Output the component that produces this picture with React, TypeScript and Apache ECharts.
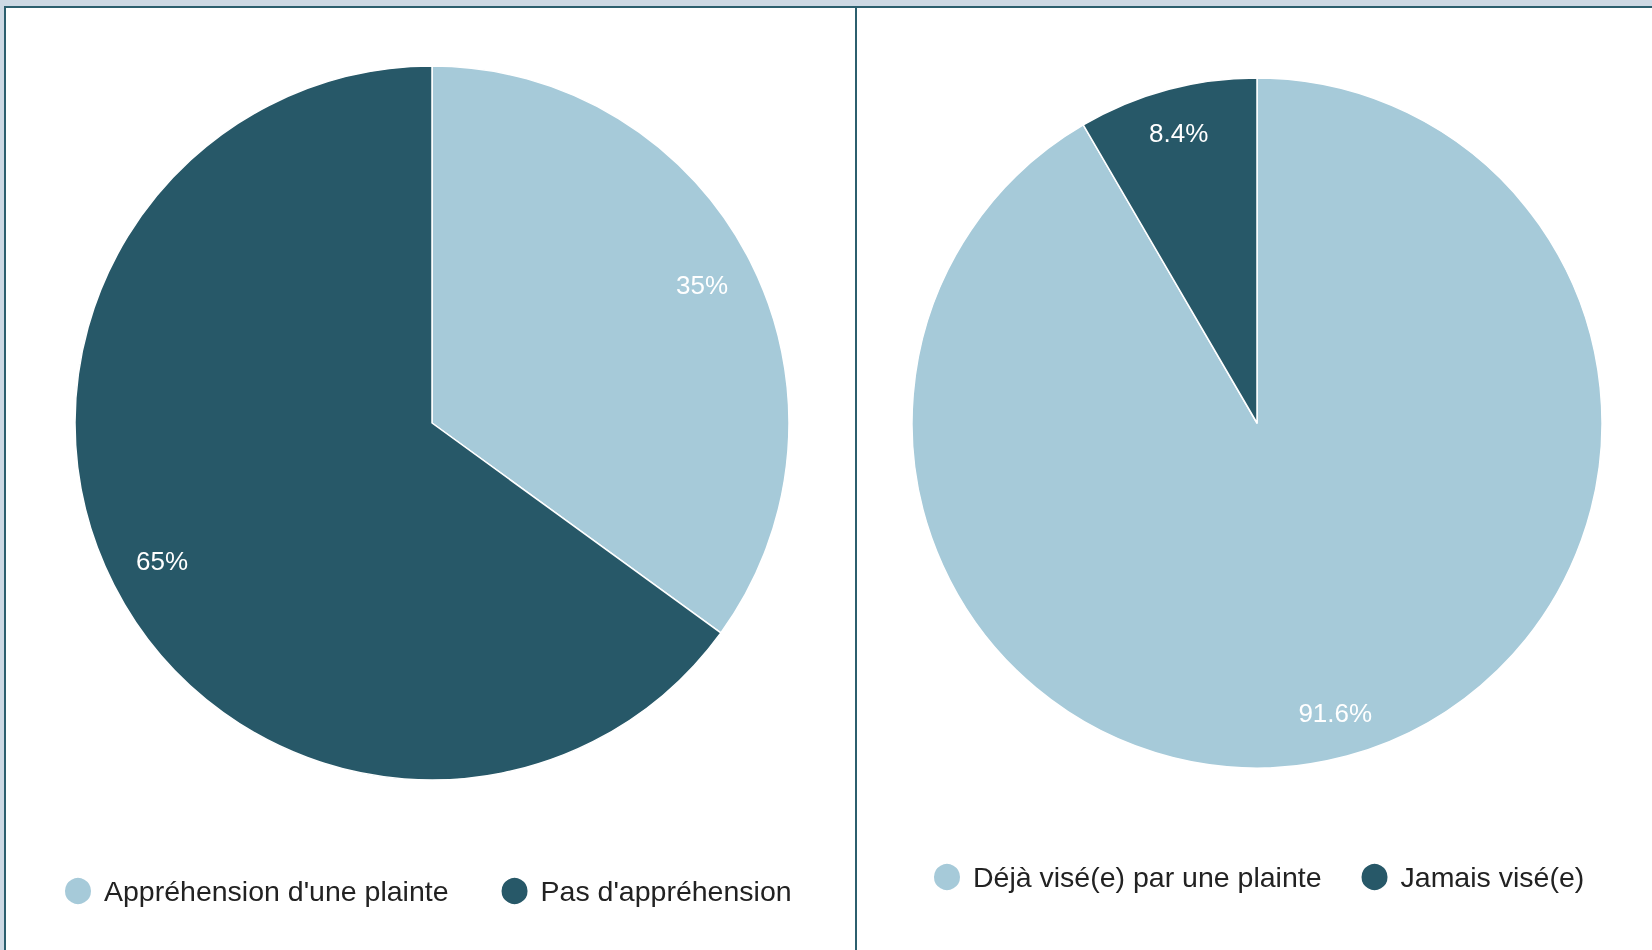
import React, { useEffect, useRef } from "react";
import * as echarts from "echarts";

const leftCategories = ["Appréhension d'une plainte", "Pas d'appréhension"];
const leftValues = [35, 65];
const rightCategories = ["Déjà visé(e) par une plainte", "Jamais visé(e)"];
const rightValues = [91.6, 8.4];
const sliceColors = ["#a6cad9", "#275868"];

const FONT = "'Liberation Sans', Arial, Helvetica, sans-serif";

function buildData(names: string[], values: number[]) {
  return names.map((name, i) => ({
    name,
    value: values[i],
    itemStyle: { color: sliceColors[i] },
  }));
}

function labelData(names: string[], values: number[]) {
  return names.map((name, i) => ({ name, value: values[i] }));
}

export default function App() {
  const ref = useRef<HTMLDivElement>(null);

  useEffect(() => {
    if (!ref.current) return;
    const chart = echarts.init(ref.current, undefined, { renderer: "svg" });

    const pieBase = (center: number[], radius: number, names: string[], values: number[]) => ({
      type: "pie",
      center,
      radius,
      startAngle: 90,
      clockwise: true,
      data: buildData(names, values),
      label: { show: false },
      labelLine: { show: false },
      itemStyle: { borderColor: "#ffffff", borderWidth: 1.5 },
      emphasis: { disabled: true },
      silent: true,
    });

    const labelRing = (center: number[], r0: number, r: number, names: string[], values: number[]) => ({
      type: "pie",
      center,
      radius: [r0, r],
      startAngle: 90,
      clockwise: true,
      data: labelData(names, values),
      itemStyle: { color: "rgba(0,0,0,0)", borderWidth: 0 },
      label: {
        show: true,
        position: "inside",
        formatter: (p: any) => `${p.value}%`,
        color: "#ffffff",
        fontSize: 26,
        fontFamily: FONT,
        fontWeight: "normal",
      },
      labelLine: { show: false },
      emphasis: { disabled: true },
      silent: true,
      legendHoverLink: false,
    });

    const legendBase = {
      orient: "horizontal",
      icon: "circle",
      itemWidth: 42,
      itemHeight: 28,
      selectedMode: false,
      textStyle: { fontSize: 28.5, color: "#222222", fontFamily: FONT },
    };

    chart.setOption({
      animation: false,
      color: sliceColors,
      graphic: [
        { type: "rect", shape: { x: 0, y: 0, width: 1652, height: 950 }, style: { fill: "#cdd9e4" }, silent: true },
        { type: "rect", shape: { x: 6, y: 8, width: 1646, height: 942 }, style: { fill: "#ffffff" }, silent: true },
        { type: "rect", shape: { x: 4, y: 6, width: 1648, height: 2 }, style: { fill: "#2c5f6e" }, silent: true },
        { type: "rect", shape: { x: 4, y: 6, width: 2, height: 944 }, style: { fill: "#2c5f6e" }, silent: true },
        { type: "rect", shape: { x: 855, y: 6, width: 2, height: 944 }, style: { fill: "#2c5f6e" }, silent: true },
      ],
      legend: [
        { ...legendBase, data: leftCategories, left: 58, top: 871, itemGap: 51 },
        { ...legendBase, data: rightCategories, left: 927, top: 857, itemGap: 38 },
      ],
      series: [
        pieBase([432, 423], 357, leftCategories, leftValues),
        pieBase([1257, 423], 345, rightCategories, rightValues),
        labelRing([432, 423], 243, 357, leftCategories, leftValues),
        labelRing([1257, 423], 249, 345, rightCategories, rightValues),
      ],
    });

    return () => chart.dispose();
  }, []);

  return (
    <div
      ref={ref}
      style={{ position: "fixed", left: 0, top: 0, width: 1652, height: 950 }}
    />
  );
}
